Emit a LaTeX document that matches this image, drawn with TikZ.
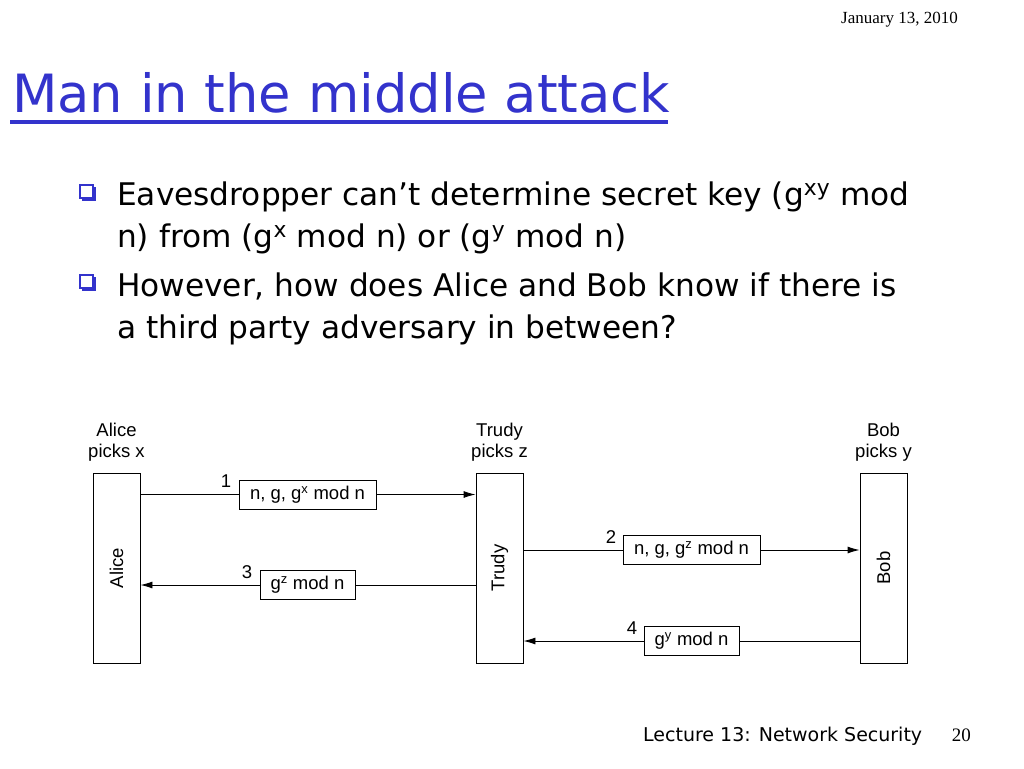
\documentclass[tikz,border=0pt]{standalone}
\usepackage{fontspec}
\setmainfont{DejaVu Sans}
\newfontfamily\arialf{Liberation Sans}
\newfontfamily\timesf{Liberation Serif}
\usetikzlibrary{arrows.meta}
\definecolor{titleblue}{RGB}{51,51,204}
\begin{document}
\begin{tikzpicture}[x=1pt,y=-1pt,
  party/.style={draw,line width=0.9pt,minimum width=47pt,minimum height=190pt,inner sep=0pt},
  vtext/.style={rotate=90,font=\arialf\fontsize{18.5}{18.5}\selectfont},
  msg/.style={draw,line width=0.9pt,minimum height=29pt,inner sep=0pt,font=\arialf\fontsize{18.5}{18.5}\selectfont},
  lbl/.style={font=\arialf\fontsize{18.5}{21}\selectfont,align=center,inner sep=0pt},
  num/.style={font=\arialf\fontsize{18.5}{18.5}\selectfont,inner sep=0pt},
  conn/.style={line width=0.9pt},
  arr/.style={line width=0.9pt,-{Latex[length=12pt,width=7pt]}},
  bodytext/.style={font=\fontsize{31.2}{31.2}\selectfont,anchor=base west,inner sep=0pt},
]
\useasboundingbox[fill=white] (0,0) rectangle (1024,768);

% header
\node[font=\timesf\fontsize{17}{17}\selectfont,anchor=base east,inner sep=0pt] (date) at (958,24) {January 13, 2010};
\node[font=\fontsize{52.7}{52.7}\selectfont,text=titleblue,anchor=base west,inner sep=0pt] (title) at (12,112) {Man in the middle attack};
\fill[titleblue] (10,119.5) rectangle (668,123.5);

% bullets
\foreach \y in {185,275}{
  \fill[titleblue] (82,\y+2) rectangle (96,\y+16);
  \draw[fill=white,draw=titleblue,line width=1.2pt] (80,\y) rectangle (93,\y+13);
}
\node[bodytext] (l1) at (117,205) {Eavesdropper can’t determine secret key (g\textsuperscript{xy} mod};
\node[bodytext] (l2) at (117,247) {n) from (g\textsuperscript{x} mod n) or (g\textsuperscript{y} mod n)};
\node[bodytext] (l3) at (117,296) {However, how does Alice and Bob know if there is};
\node[bodytext] (l4) at (117,338) {a third party adversary in between?};

% parties
\node[party] (alice) at (116.5,568) {};
\node[party] (trudy) at (499.5,568) {};
\node[party] (bob) at (883.5,568) {};
\node[vtext] (ta) at (alice.center) {Alice};
\node[vtext] (tt) at (trudy.center) {Trudy};
\node[vtext] (tb) at (bob.center) {Bob};

\node[lbl,anchor=south] (la) at (116.5,462) {Alice\\picks x};
\node[lbl,anchor=south] (lt) at (499.5,462) {Trudy\\picks z};
\node[lbl,anchor=south] (lb) at (883.5,462) {Bob\\picks y};

% messages
\node[msg,minimum width=137pt] (m1) at (307.5,494.5) {n, g, g\textsuperscript{x} mod n};
\node[msg,minimum width=137pt] (m2) at (691.5,550) {n, g, g\textsuperscript{z} mod n};
\node[msg,minimum width=95pt] (m3) at (307.5,585) {g\textsuperscript{z} mod n};
\node[msg,minimum width=95pt] (m4) at (691.5,641) {g\textsuperscript{y} mod n};

\node[num] (n1) at (226,481) {1};
\node[num] (n2) at (611,537) {2};
\node[num] (n3) at (247,572) {3};
\node[num] (n4) at (632,628) {4};

\draw[conn] (alice.east |- m1.west) -- (m1.west);
\draw[arr] (m1.east) -- (trudy.west |- m1.east);
\draw[conn] (trudy.east |- m2.west) -- (m2.west);
\draw[arr] (m2.east) -- (bob.west |- m2.east);
\draw[conn] (trudy.west |- m3.east) -- (m3.east);
\draw[arr] (m3.west) -- (alice.east |- m3.west);
\draw[conn] (bob.west |- m4.east) -- (m4.east);
\draw[arr] (m4.west) -- (trudy.east |- m4.west);

% footer
\node[font=\fontsize{19}{19}\selectfont,anchor=base west,inner sep=0pt] (foot) at (643,741) {Lecture 13: Network Security};
\node[font=\timesf\fontsize{19}{19}\selectfont,anchor=base east,inner sep=0pt] (page) at (971,741) {20};
\end{tikzpicture}
\end{document}
